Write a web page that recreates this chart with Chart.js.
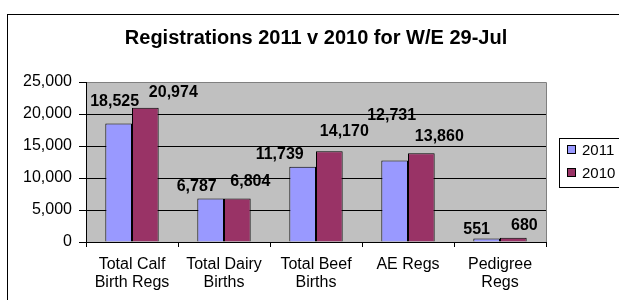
<!DOCTYPE html>
<html>
<head>
<meta charset="utf-8">
<script src="https://cdn.jsdelivr.net/npm/chart.js@4/dist/chart.umd.min.js"></script>
<style>
  html, body { margin: 0; padding: 0; background: #fff; }
  #wrap { width: 619px; height: 300px; }
</style>
</head>
<body>
<div id="wrap"><canvas id="grafico" width="619" height="300"></canvas></div>
<script>
// Dados
const titulo = 'Registrations 2011 v 2010 for W/E 29-Jul';
const categorias = [
  ['Total Calf', 'Birth Regs'],
  ['Total Dairy', 'Births'],
  ['Total Beef', 'Births'],
  'AE Regs',
  ['Pedigree', 'Regs']
];
const series = ['2011', '2010'];
const valores2011 = [18525, 6787, 11739, 12731, 551];
const valores2010 = [20974, 6804, 14170, 13860, 680];
const ticksY = [0, 5000, 10000, 15000, 20000, 25000];

const cor = { s2011: '#9999FF', s2010: '#993366', fundo: '#C0C0C0', moldura: '#808080' };
const fonte = "'Liberation Sans', Arial, sans-serif";

// Etiquetas deslocadas a mao no original (dx, dy em px a partir do topo da barra)
const ajuste = [
  [[-4, -22], [-14, -12], [-23, -12], [-3, -45], [-10, -9]],
  [[28, -15], [13, -17], [15, -20], [18, -17], [11, -12]]
];

const fmt = (v) => Number(v).toLocaleString('en-US');

const extras = {
  id: 'extras',
  beforeDraw(chart) {
    const { ctx, chartArea: a } = chart;
    ctx.save();
    ctx.fillStyle = cor.fundo;
    ctx.fillRect(a.left, a.top, a.right - a.left, a.bottom - a.top);
    ctx.strokeStyle = cor.moldura;
    ctx.lineWidth = 1;
    ctx.beginPath();
    ctx.moveTo(a.left, a.top + 0.5);
    ctx.lineTo(a.right + 0.5, a.top + 0.5);
    ctx.lineTo(a.right + 0.5, a.bottom);
    ctx.stroke();
    ctx.restore();
  },
  afterDraw(chart) {
    const { ctx } = chart;
    ctx.save();
    // moldura exterior
    ctx.strokeStyle = '#000';
    ctx.lineWidth = 1;
    ctx.strokeRect(7.5, 14.5, 700, 400);

    // titulo
    ctx.fillStyle = '#000';
    ctx.font = 'bold 20px ' + fonte;
    ctx.textAlign = 'center';
    ctx.textBaseline = 'middle';
    ctx.fillText(titulo, 316, 38);

    // etiquetas de valor
    ctx.font = 'bold 16px ' + fonte;
    chart.data.datasets.forEach((ds, i) => {
      chart.getDatasetMeta(i).data.forEach((bar, j) => {
        const [dx, dy] = ajuste[i][j];
        ctx.fillText(fmt(ds.data[j]), bar.x + dx, bar.y + dy);
      });
    });

    // legenda
    ctx.fillStyle = '#fff';
    ctx.fillRect(559.5, 138.5, 80, 49);
    ctx.strokeRect(559.5, 138.5, 80, 49);
    ctx.font = '15px ' + fonte;
    ctx.textAlign = 'left';
    chart.data.datasets.forEach((ds, i) => {
      const y = 150 + i * 23;
      ctx.fillStyle = ds.backgroundColor;
      ctx.fillRect(567.5, y - 4.5, 8, 8);
      ctx.strokeStyle = '#000';
      ctx.strokeRect(567.5, y - 4.5, 8, 8);
      ctx.fillStyle = '#000';
      ctx.fillText(ds.label, 582, y + 1);
    });
    ctx.restore();
  }
};

new Chart(document.getElementById('grafico'), {
  type: 'bar',
  data: {
    labels: categorias,
    datasets: [
      { label: series[0], data: valores2011, backgroundColor: cor.s2011, borderColor: '#000', borderWidth: 1 },
      { label: series[1], data: valores2010, backgroundColor: cor.s2010, borderColor: '#000', borderWidth: 1 }
    ]
  },
  options: {
    responsive: false,
    animation: false,
    devicePixelRatio: 1,
    layout: { padding: { left: 0, top: 82, right: 73, bottom: 0 } },
    categoryPercentage: 0.58,
    barPercentage: 1,
    plugins: { legend: { display: false }, title: { display: false }, tooltip: { enabled: false } },
    scales: {
      x: {
        afterFit: (s) => { s.height = 58; },
        grid: { offset: true, drawOnChartArea: false, drawTicks: true, tickLength: 5, color: '#000' },
        border: { display: true, color: '#000' },
        ticks: { color: '#000', padding: 8, maxRotation: 0, autoSkip: false,
          font: { family: fonte, size: 16, lineHeight: 1.15 } }
      },
      y: {
        min: 0, max: 25000,
        afterFit: (s) => { s.width = 86; },
        afterBuildTicks: (s) => { s.ticks = ticksY.map(v => ({ value: v })); },
        grid: {
          color: (c) => (c.tick && c.tick.value === 25000 ? cor.moldura : '#000'),
          tickColor: '#000', tickLength: 7, drawTicks: true
        },
        border: { display: true, color: '#000' },
        ticks: { color: '#000', padding: 7, callback: (v) => fmt(v),
          font: { family: fonte, size: 16 } }
      }
    }
  },
  plugins: [extras]
});
</script>
</body>
</html>
